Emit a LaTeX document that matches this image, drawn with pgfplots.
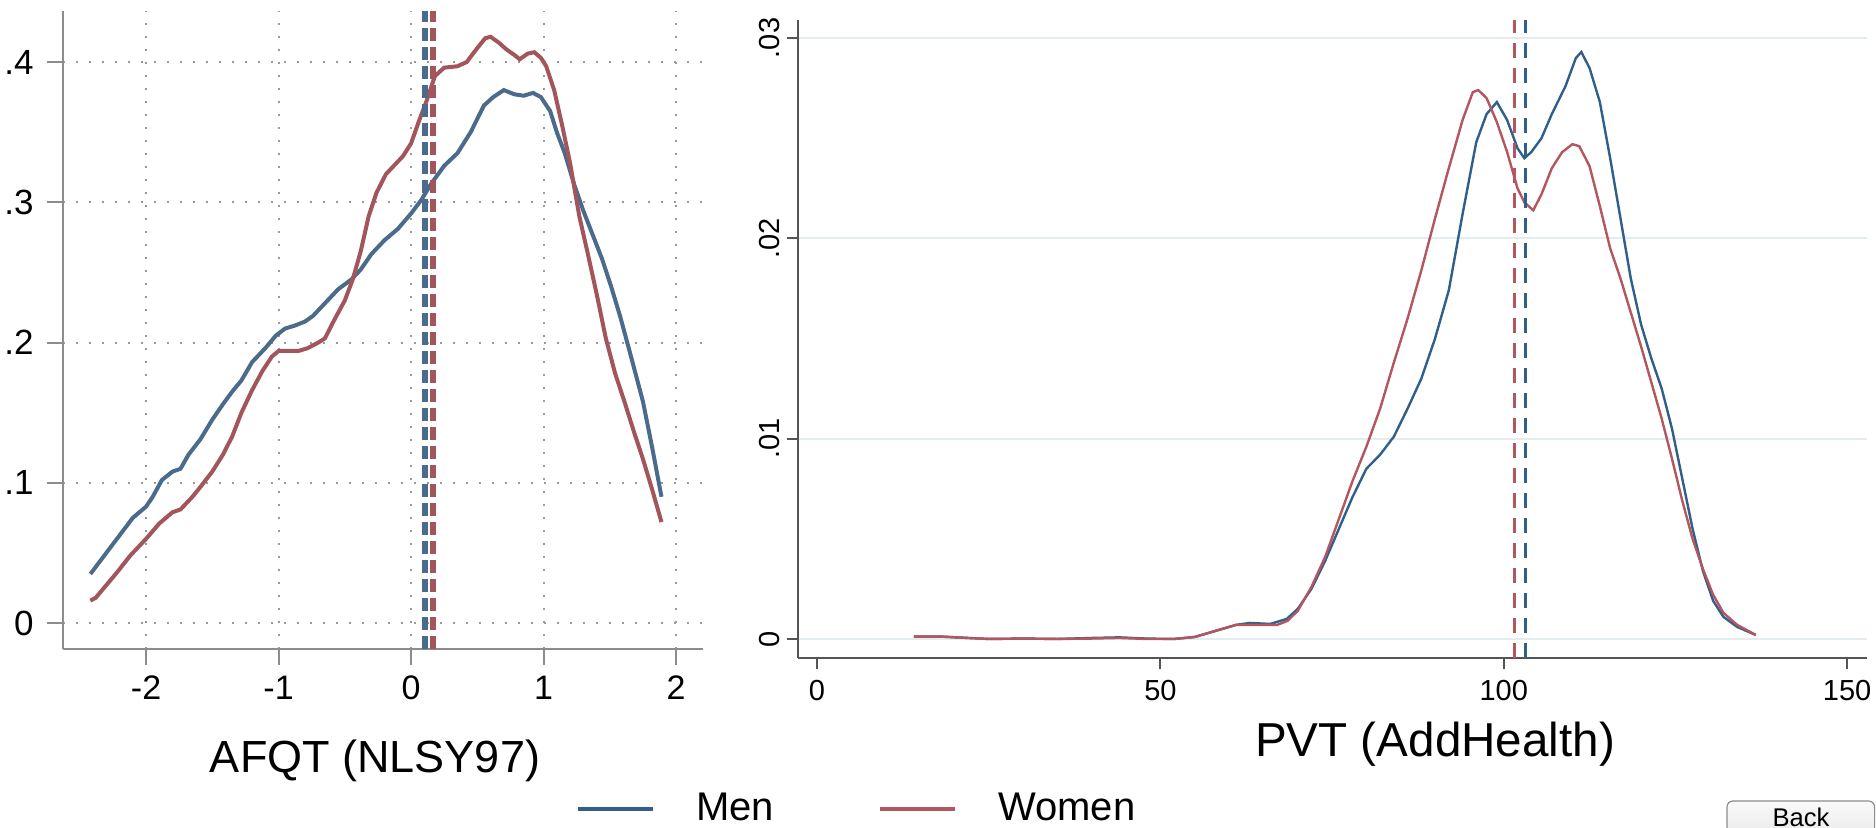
\documentclass[border=0pt]{standalone}
\usepackage{pgfplots}
\pgfplotsset{compat=1.18}
\usepackage{fontspec}
\setmainfont{Liberation Sans}
\newcommand{\fs}[1]{\fontsize{#1}{#1}\selectfont}
\definecolor{lblue}{HTML}{4A6B8C}
\definecolor{lred}{HTML}{A2565B}
\definecolor{rblue}{HTML}{2F5F8A}
\definecolor{rred}{HTML}{B3565F}
\definecolor{axgray}{HTML}{8C8C8C}
\definecolor{axdark}{HTML}{555555}
\definecolor{dotgray}{HTML}{9A9A9A}
\definecolor{gridblue}{HTML}{E3ECF1}
\begin{document}
\begin{tikzpicture}
\path[use as bounding box] (0,0) rectangle (938pt,414pt);
% ---------------- left panel ----------------
\begin{axis}[
  at={(31.35pt,89.5pt)}, anchor=south west,
  width=320pt, height=319.2pt, scale only axis,
  xmin=-2.629, xmax=2.201, ymin=-0.0185, ymax=0.4367,
  axis lines*=left,
  axis line style={-, draw=axgray, line width=1pt},
  xtick={-2,-1,0,1,2}, xticklabels={-2,-1,0,1,2},
  ytick={0,0.1,0.2,0.3,0.4}, yticklabels={0,.1,.2,.3,.4},
  tick align=outside, major tick length=8pt,
  tick style={draw=axgray, line width=1pt},
  xticklabel style={font=\fs{17}, anchor=north, yshift=-2pt},
  yticklabel style={font=\fs{17.5}, anchor=east, xshift=-3pt},
  grid=major,
  grid style={draw=dotgray, line width=1pt, dash pattern=on 1pt off 5.5pt},
  xlabel={AFQT (NLSY97)},
  xlabel style={font=\fs{22.5}, at={(axis description cs:0.488,-0.1942)}, anchor=base},
  clip=false,
]
\addplot[lblue, line width=2pt] coordinates {
(-2.42,0.035) (-2.30,0.050) (-2.22,0.060) (-2.10,0.075) (-2.00,0.083) (-1.95,0.090)
(-1.88,0.102) (-1.80,0.108) (-1.74,0.110) (-1.68,0.120) (-1.59,0.131) (-1.50,0.145)
(-1.42,0.156) (-1.35,0.165) (-1.28,0.173) (-1.20,0.186) (-1.10,0.196) (-1.02,0.205)
(-0.95,0.210) (-0.88,0.212) (-0.80,0.215) (-0.74,0.219) (-0.65,0.228) (-0.55,0.238)
(-0.45,0.245) (-0.38,0.252) (-0.30,0.263) (-0.20,0.273) (-0.10,0.281) (0.00,0.292)
(0.08,0.302) (0.15,0.313) (0.25,0.326) (0.35,0.335) (0.45,0.350) (0.55,0.369)
(0.62,0.375) (0.70,0.380) (0.78,0.377) (0.85,0.376) (0.92,0.378) (0.98,0.375)
(1.05,0.365) (1.10,0.350) (1.16,0.335) (1.23,0.313) (1.30,0.294) (1.37,0.277)
(1.44,0.260) (1.51,0.240) (1.58,0.218) (1.66,0.190) (1.75,0.158) (1.82,0.125) (1.89,0.090)
};
\addplot[lred, line width=2pt] coordinates {
(-2.42,0.016) (-2.38,0.018) (-2.30,0.027) (-2.22,0.036) (-2.12,0.048) (-2.00,0.060)
(-1.90,0.071) (-1.80,0.079) (-1.74,0.081) (-1.65,0.090) (-1.59,0.097) (-1.50,0.108)
(-1.42,0.120) (-1.35,0.133) (-1.28,0.150) (-1.20,0.166) (-1.12,0.180) (-1.05,0.190)
(-1.00,0.194) (-0.92,0.194) (-0.85,0.194) (-0.78,0.196) (-0.70,0.200) (-0.65,0.203)
(-0.58,0.216) (-0.50,0.230) (-0.44,0.245) (-0.38,0.265) (-0.32,0.290) (-0.26,0.307)
(-0.19,0.320) (-0.12,0.327) (-0.06,0.333) (0.00,0.342) (0.06,0.358) (0.12,0.373)
(0.18,0.390) (0.25,0.396) (0.35,0.397) (0.42,0.400) (0.50,0.410) (0.56,0.417)
(0.60,0.418) (0.66,0.414) (0.72,0.409) (0.78,0.405) (0.82,0.402) (0.88,0.406)
(0.93,0.407) (0.98,0.403) (1.02,0.397) (1.08,0.380) (1.14,0.355) (1.20,0.328)
(1.27,0.290) (1.33,0.265) (1.40,0.235) (1.47,0.203) (1.54,0.178) (1.61,0.158)
(1.68,0.137) (1.75,0.117) (1.82,0.095) (1.89,0.072)
};
\addplot[lblue, line width=3pt, dash pattern=on 6.5pt off 3pt] coordinates {(0.106,-0.0185) (0.106,0.4367)};
\addplot[lred, line width=3pt, dash pattern=on 6.5pt off 3pt] coordinates {(0.166,-0.0185) (0.166,0.4367)};
\end{axis}
% ---------------- right panel ----------------
\begin{axis}[
  at={(399pt,85pt)}, anchor=south west,
  width=534.5pt, height=319pt, scale only axis,
  xmin=-2.77, xmax=152.9, ymin=-0.00095, ymax=0.0309,
  axis lines*=left,
  axis line style={-, draw=axdark, line width=1pt},
  xtick={0,50,100,150}, xticklabels={0,50,100,150},
  ytick={0,0.01,0.02,0.03}, yticklabels={0,.01,.02,.03},
  scaled y ticks=false,
  tick align=outside, major tick length=5.5pt,
  tick style={draw=axdark, line width=1pt},
  xticklabel style={font=\fs{14.5}, anchor=north, yshift=-2pt},
  yticklabel style={font=\fs{14.5}, rotate=90, anchor=south, xshift=0pt},
  ymajorgrids,
  grid style={draw=gridblue, line width=1pt},
  xlabel={PVT (AddHealth)},
  xlabel style={font=\fs{23.8}, at={(axis description cs:0.596,-0.155)}, anchor=base},
  legend columns=2,
  legend style={at={(axis description cs:-0.2077,-0.2362)}, anchor=west, draw=none, fill=none,
    inner sep=0pt, font=\fs{20}, column sep=0pt,
    nodes={inner xsep=0pt, inner ysep=0pt, text width=91pt, align=left}},
  legend image code/.code={\draw[#1, line width=2pt] (0pt,0pt) -- (37.5pt,0pt); \path[draw=none] (0pt,0pt) -- (59pt,0pt);},
  clip=false,
]
\addplot[rblue, line width=1.2pt] coordinates {
(14.1,0.00012) (18,0.00012) (22,0.00005) (25,0.0) (30,0.00002) (35,0.0) (40,0.00005)
(44,0.00008) (48,0.00002) (52,0.0) (55,0.0001) (58,0.0004) (61,0.0007) (63,0.0008)
(66,0.00075) (68.4,0.001) (70,0.0015) (72,0.0025) (74,0.0039) (76,0.0055) (78,0.0071)
(80,0.0085) (82,0.0092) (84,0.0101) (86,0.0115) (88,0.0130) (90,0.0150) (92,0.0174)
(94,0.0212) (96,0.0248) (97.5,0.0262) (99,0.0268) (100.5,0.0259) (102,0.0245)
(103,0.0240) (104,0.0243) (105.5,0.0250) (107,0.0262) (109,0.0276) (110.5,0.0290)
(111.3,0.0293) (112.5,0.0285) (114,0.0268) (115.5,0.0240) (117,0.0210) (118.5,0.0180)
(120,0.0157) (121.5,0.0140) (123,0.0125) (124.5,0.0105) (126,0.0080) (127.5,0.0055)
(129,0.0034) (130.5,0.0019) (132,0.0011) (134,0.0006) (136.7,0.0002)
};
\addlegendentry{Men}
\addplot[rred, line width=1.2pt] coordinates {
(14.1,0.00012) (18,0.00012) (22,0.00005) (25,0.0) (30,0.00002) (35,0.0) (40,0.00002)
(44,0.00005) (48,0.0) (52,0.0) (55,0.0001) (58,0.0004) (61,0.0007) (64,0.0007)
(67,0.0007) (68.5,0.0009) (70,0.0014) (72,0.0026) (74,0.0041) (76,0.0060) (78,0.0079)
(80,0.0096) (82,0.0115) (84,0.0138) (86,0.0160) (88,0.0184) (90,0.0210) (92,0.0235)
(94,0.0259) (95.5,0.0273) (96.3,0.0274) (97.5,0.0270) (99,0.0258) (100.5,0.0243)
(102,0.0225) (103,0.0218) (104.3,0.0214) (105.5,0.0222) (107,0.0235) (108.5,0.0243)
(110,0.0247) (111,0.0246) (112.5,0.0236) (114,0.0216) (115.5,0.0195) (117,0.0180)
(118.5,0.0163) (120,0.0146) (121.5,0.0128) (123,0.0110) (124.5,0.0090) (126,0.0069)
(127.5,0.0050) (129,0.0035) (130.5,0.0022) (132,0.0013) (134,0.0007) (136.7,0.0002)
};
\addlegendentry{Women}
\addplot[rred, line width=1.5pt, dash pattern=on 7.5pt off 5pt, forget plot] coordinates {(101.5,-0.00095) (101.5,0.0309)};
\addplot[rblue, line width=1.5pt, dash pattern=on 7.5pt off 5pt, forget plot] coordinates {(103.1,-0.00095) (103.1,0.0309)};
\end{axis}
% ---------------- Back button ----------------
\draw[rounded corners=3pt, draw=axgray, line width=0.6pt, top color=gray!4, bottom color=gray!18]
  (863.5pt,-6pt) rectangle (937.3pt,13.5pt);
\node[font=\fs{12.8}, anchor=base, inner sep=0pt] at (900.5pt,0.8pt) {Back};
\end{tikzpicture}
\end{document}
